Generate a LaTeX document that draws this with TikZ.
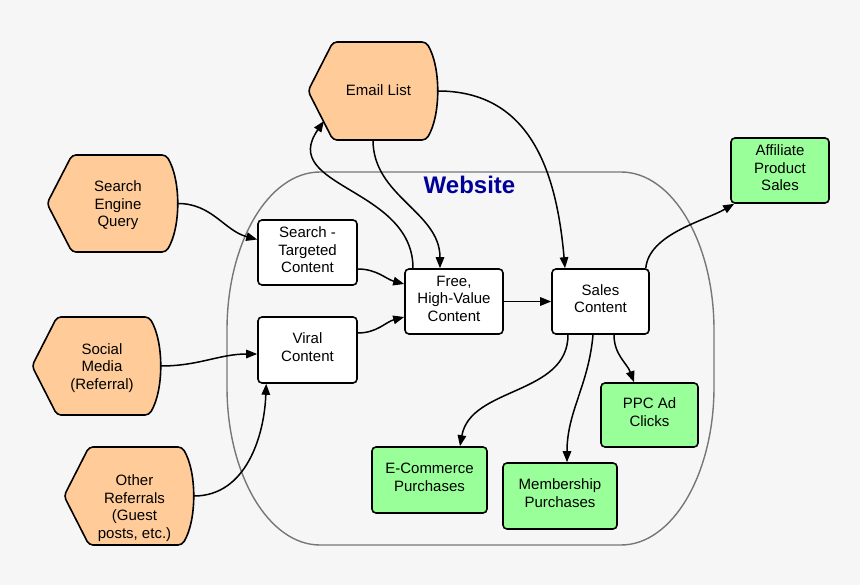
\documentclass[tikz,border=0pt]{standalone}
\usepackage{fontspec}
\setmainfont{Liberation Sans}
\usetikzlibrary{arrows.meta,calc}
\definecolor{bgc}{HTML}{F6F6F6}
\definecolor{srcfill}{HTML}{FFCC99}
\definecolor{grn}{HTML}{99FF99}
\definecolor{webblue}{HTML}{000099}
\definecolor{contc}{HTML}{777777}
\newcommand\dfont{\fontsize{15}{17.5}\selectfont}
\newcommand\lift{\rule[-5.5pt]{0pt}{5.5pt}}
\tikzset{
  srcshape/.style={draw=black, line width=1.6pt, fill=srcfill, rounded corners=4pt},
  srcbound/.style={inner sep=0pt, outer sep=0pt},
  srctext/.style={font=\dfont, align=center, xshift=5.5pt, yshift=-2pt},
  box/.style={draw=black, line width=1.6pt, rounded corners=4pt, fill=white, align=center, inner sep=0pt, font=\dfont},
  gbox/.style={box, fill=grn},
  conn/.style={draw=black, line width=1.5pt, -{Triangle[length=11pt,width=8.5pt]}},
  contour/.style={draw=contc, line width=1.4pt}
}
% #1 name, #2 L, #3 T, #4 R, #5 B, #6 text, #7 extra label options
\newcommand\srcnode[7]{%
  \path[srcshape] (#2,{-(#3+#5)/2}) -- (#2+25,-#3) -- (#4-12,-#3)
     .. controls (#4+3,-#3-25) and (#4+3,-#5+25) .. (#4-12,-#5) -- (#2+25,-#5) -- cycle;
  \node[srcbound, minimum width={(#4-#2)*1pt}, minimum height={(#5-#3)*1pt},
        label={[srctext,#7]center:{#6}}] (#1) at ({(#2+#4)/2},{-(#3+#5)/2}) {};
}
\begin{document}
\begin{tikzpicture}[x=1pt,y=1pt]
\fill[bgc] (0,0) rectangle (860,-585);
\useasboundingbox (0,0) rectangle (860,-585);

% website container
\path[contour] (320,-172) -- (621,-172)
  .. controls (672.4,-172) and (714,-242.7) .. (714,-330) -- (714,-387)
  .. controls (714,-474.3) and (672.4,-545) .. (621,-545) -- (320,-545)
  .. controls (268.6,-545) and (227,-474.3) .. (227,-387) -- (227,-330)
  .. controls (227,-242.7) and (268.6,-172) .. cycle;
\node[font=\bfseries\fontsize{24}{28}\selectfont, text=webblue] (web) at (469.5,-185) {Website};

% source shapes
\srcnode{email}{308}{42}{438}{140}{Email List}{yshift=3pt}
\srcnode{sq}{47}{155}{178}{252}{Search\\Engine\\Query}{}
\srcnode{sm}{32}{317}{161}{415}{Social\\Media\\(Referral)}{}
\srcnode{oth}{64}{447}{194}{545}{Other\\Referrals\\(Guest\\posts, etc.)}{yshift=-10pt}

% boxes
\node[box, minimum width=99pt, minimum height=65pt] (st) at (307.5,-252.5) {Search -\\Targeted\\Content\lift};
\node[box, minimum width=99pt, minimum height=66pt] (vc) at (307.5,-350) {Viral\\Content\lift};
\node[box, minimum width=98pt, minimum height=65pt] (fh) at (454,-301.5) {Free,\\High-Value\\Content\lift};
\node[box, minimum width=97pt, minimum height=65pt] (sales) at (600.5,-301.5) {Sales\\Content\lift};
\node[gbox, minimum width=97pt, minimum height=64pt] (ppc) at (649.5,-415) {PPC Ad\\Clicks\lift};
\node[gbox, minimum width=98pt, minimum height=65pt] (aff) at (780,-170.5) {Affiliate\\Product\\Sales\lift};
\node[gbox, minimum width=115pt, minimum height=66pt] (ec) at (429.5,-480) {E-Commerce\\Purchases\lift};
\node[gbox, minimum width=114pt, minimum height=66pt] (mem) at (560,-496) {Membership\\Purchases\lift};

% connectors
\draw[conn] (sq.east) to[out=0,in=165] ([yshift=13pt]st.west);
\draw[conn] (sm.east) to[out=0,in=180] ([yshift=-4pt]vc.west);
\draw[conn] (oth.east) to[out=0,in=-92] ([xshift=9pt]vc.south west);
\draw[conn] ([yshift=-16.5pt]st.east) to[out=0,in=165] ([yshift=17.5pt]fh.west);
\draw[conn] ([yshift=17pt]vc.east) to[out=0,in=195] ([yshift=-15.5pt]fh.west);
\draw[conn] ([xshift=-41pt]fh.north) to[out=90,in=235,looseness=1.2] ([xshift=16pt,yshift=-30pt]email.west);
\draw[conn] (email.south) to[out=-90,in=90] ([xshift=-14pt]fh.north);
\draw[conn] (email.east) to[out=0,in=95,looseness=1.1] ([xshift=-35.5pt]sales.north);
\draw[conn] (fh.east) -- (sales.west);
\draw[conn] ([xshift=-4pt]sales.north east) to[out=85,in=210,looseness=0.8] ([xshift=4pt]aff.south west);
\draw[conn] ([xshift=-32.5pt]sales.south) to[out=-90,in=80] ([xshift=30.5pt]ec.north);
\draw[conn] ([xshift=-7.5pt]sales.south) to[out=-95,in=90] ([xshift=7pt]mem.north);
\draw[conn] ([xshift=13.5pt]sales.south) to[out=-90,in=110] ([xshift=-15.5pt]ppc.north);
\end{tikzpicture}
\end{document}
